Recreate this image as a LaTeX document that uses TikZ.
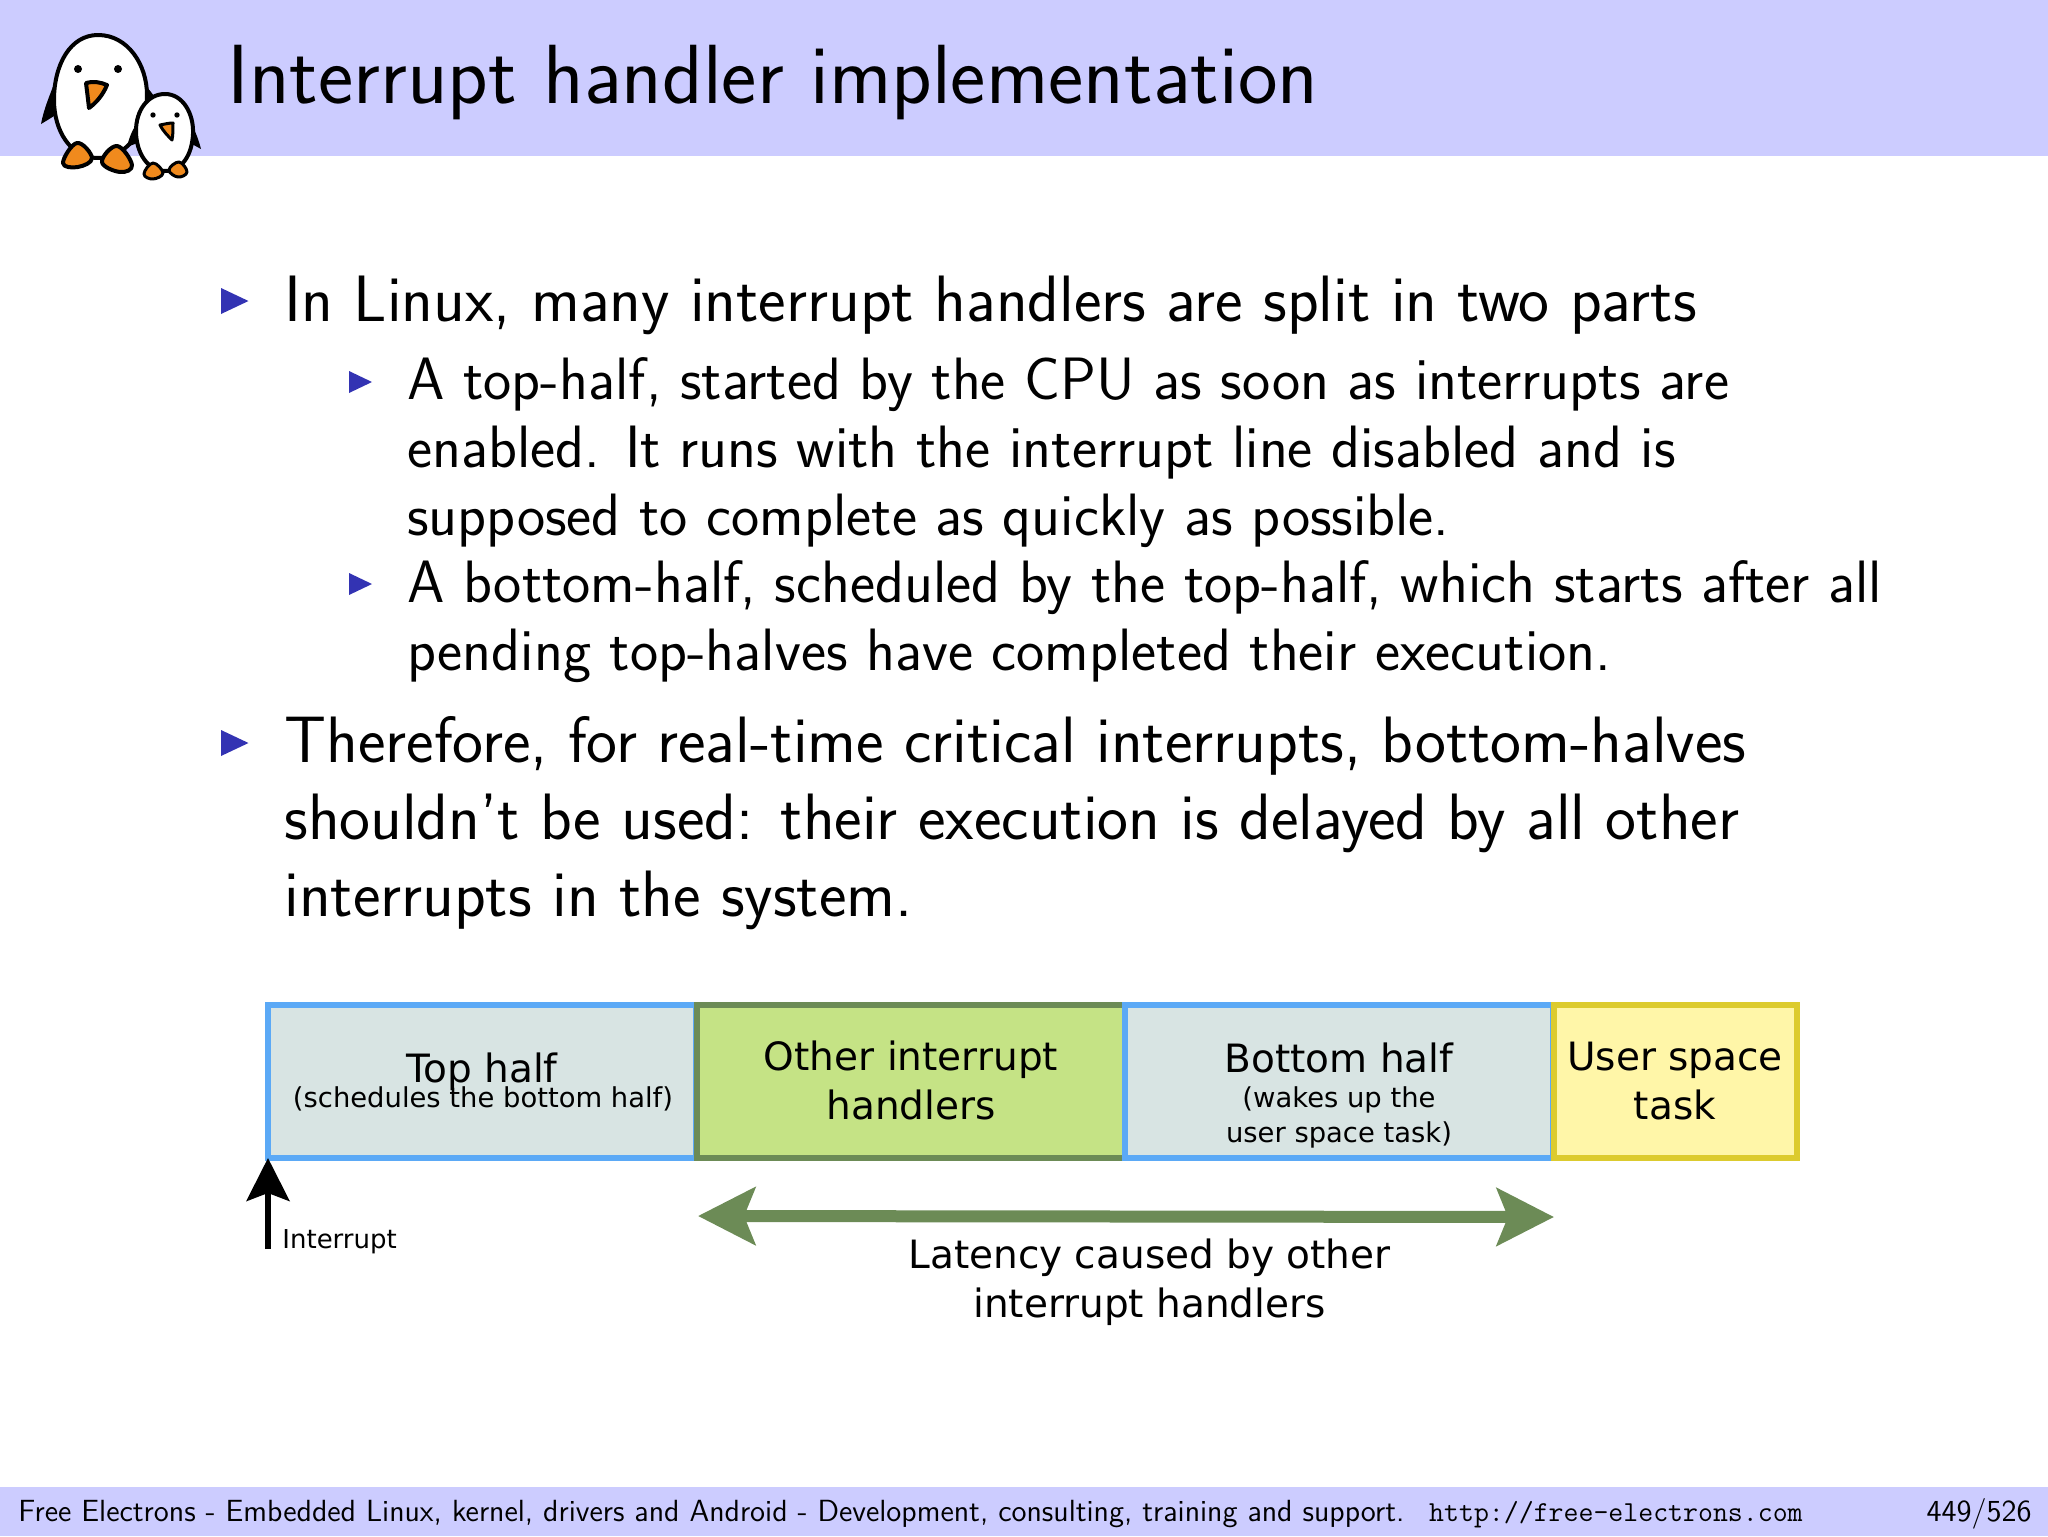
\documentclass[tikz,border=0pt]{standalone}
\usepackage{fontspec}
\newfontfamily\dejavu{DejaVu Sans}
\usetikzlibrary{arrows.meta}

\definecolor{bandblue}{HTML}{CCCCFF}
\definecolor{bulletblue}{HTML}{3333B3}
\definecolor{halfedge}{HTML}{5BA9F6}
\definecolor{halffill}{HTML}{D8E4E3}
\definecolor{otheredge}{HTML}{6C8B56}
\definecolor{otherfill}{HTML}{C5E385}
\definecolor{useredge}{HTML}{DCCB2E}
\definecolor{userfill}{HTML}{FFF6A8}
\definecolor{beakorange}{HTML}{F08A1D}

\begin{document}
\begin{tikzpicture}[
    x=0.5pt, y=-0.5pt,
    font=\sffamily,
    titletext/.style={anchor=base west, inner sep=0pt, font=\sffamily\fontsize{42}{46}\selectfont},
    leveltext/.style={anchor=base west, inner sep=0pt, align=left, font=\sffamily\fontsize{32.8}{38.3}\selectfont},
    subtext/.style={anchor=base west, inner sep=0pt, align=left, font=\sffamily\fontsize{29.9}{34}\selectfont},
    foottext/.style={anchor=base west, inner sep=0pt, font=\sffamily\fontsize{15.3}{17}\selectfont},
    slot/.style={draw, line width=3pt, outer sep=0pt, inner sep=0pt, anchor=north west, minimum height=76.5pt},
    halfslot/.style={slot, draw=halfedge, fill=halffill, minimum width=214pt},
    otherslot/.style={slot, draw=otheredge, fill=otherfill, minimum width=214pt},
    userslot/.style={slot, draw=useredge, fill=userfill, minimum width=121.5pt},
    bigtext/.style={anchor=base, inner sep=0pt, font=\dejavu\fontsize{19.5}{22}\selectfont},
    smalltext/.style={anchor=base, inner sep=0pt, font=\dejavu\fontsize{13.7}{17}\selectfont},
    penguinline/.style={draw=black, line width=2pt, line join=round},
    irqarrow/.style={-{Stealth[length=21.5pt, width=21.5pt, inset=4pt]}, line width=2.8pt, black},
    latarrow/.style={{Stealth[length=28.5pt, width=28.5pt, inset=5.5pt]}-{Stealth[length=28.5pt, width=28.5pt, inset=5.5pt]}, line width=6pt, otheredge}
]
\useasboundingbox (0,0) rectangle (2048,1536);

% Bands
\fill[bandblue] (0,0) rectangle (2048,156);
\fill[bandblue] (0,1487) rectangle (2048,1536);

%%%%%%%%%%%%%%%%%%%%%
% Penguins
%%%%%%%%%%%%%%%%%%%%%
\fill[black] (57,76) .. controls (50,95) and (44,108) .. (41,124) .. controls (48,120) and (54,116) .. (60,112) -- cycle;
\fill[black] (144,84) .. controls (148,88) and (151,92) .. (154,96) -- (142,112) -- cycle;
\draw[penguinline, fill=white] (98,35) .. controls (128,35) and (147,65) .. (147,95)
    .. controls (147,125) and (130,158) .. (98,158)
    .. controls (70,158) and (54,130) .. (54,100)
    .. controls (54,65) and (70,35) .. (98,35);
\fill (78,69) circle (4);
\fill (118,69) circle (4);
\draw[penguinline, fill=beakorange] (86,83) .. controls (93,81) and (100,82) .. (107,85) .. controls (103,95) and (96,103) .. (89,108) .. controls (88,99) and (87,91) .. (86,83) -- cycle;
\draw[penguinline, fill=beakorange] plot[smooth cycle, tension=0.7] coordinates {(77,143) (92,158) (78,167) (63,163)};
\draw[penguinline, fill=beakorange] plot[smooth cycle, tension=0.7] coordinates {(117,146) (132,165) (120,172) (102,162)};

\fill[black] (138,122) .. controls (132,130) and (129,138) .. (127,147) -- (140,142) -- cycle;
\fill[black] (192,125) .. controls (196,133) and (199,141) .. (201,149) -- (190,143) -- cycle;
\draw[penguinline, fill=white] (165,94) .. controls (183,94) and (194,114) .. (193,134)
    .. controls (192,155) and (182,171) .. (165,171)
    .. controls (148,171) and (136,153) .. (136,131)
    .. controls (136,110) and (148,94) .. (165,94);
\fill (153,115) circle (2.7);
\fill (177,115) circle (2.7);
\draw[penguinline, line width=1.5pt, fill=beakorange] (160,125) .. controls (165,124) and (169,123) .. (173,123) .. controls (173,130) and (173,135) .. (172,140) .. controls (168,136) and (163,131) .. (160,125) -- cycle;
\draw[penguinline, line width=1.5pt, fill=beakorange] plot[smooth cycle, tension=0.7] coordinates {(153,163) (163,173) (153,179) (144,174)};
\draw[penguinline, line width=1.5pt, fill=beakorange] plot[smooth cycle, tension=0.7] coordinates {(179,162) (187,172) (178,177) (169,170)};

%%%%%%%%%%%%%%%%%%%%%
% Slide text
%%%%%%%%%%%%%%%%%%%%%
\node[titletext] (title) at (227,103.5) {Interrupt handler implementation};

\foreach \bx/\by in {235/301, 235/743}
    \fill[bulletblue] (\bx-14,\by-13) -- (\bx+13.5,\by) -- (\bx-14,\by+13) -- cycle;
\foreach \bx/\by in {361/382, 361/584}
    \fill[bulletblue] (\bx-12,\by-11) -- (\bx+11,\by) -- (\bx-12,\by+11) -- cycle;

\node[leveltext] (splitline) at (284,321) {In Linux, many interrupt handlers are split in two parts};
\node[subtext] (tophalfline) at (407,535) {A top-half, started by the CPU as soon as interrupts are\\
    enabled. It runs with the interrupt line disabled and is\\
    supposed to complete as quickly as possible.};
\node[subtext] (bottomhalfline) at (407,670) {A bottom-half, scheduled by the top-half, which starts after all\\
    pending top-halves have completed their execution.};
\node[leveltext] (thereforeline) at (284,916) {Therefore, for real-time critical interrupts, bottom-halves\\
    shouldn't be used: their execution is delayed by all other\\
    interrupts in the system.};

%%%%%%%%%%%%%%%%%%%%%
% Timeline bar
%%%%%%%%%%%%%%%%%%%%%
\node[halfslot] (topslot) at (268,1005) {};
\node[otherslot] (otherslot) at (697,1005) {};
\node[halfslot] (bottomslot) at (1125,1005) {};
\node[userslot] (userslot) at (1554,1005) {};

\node[bigtext] (tophalf) at (482,1082) {Top half};
\node[smalltext] (topnote) at (483,1107) {(schedules the bottom half)};
\node[bigtext] (othera) at (911,1070) {Other interrupt};
\node[bigtext] (otherb) at (911,1119) {handlers};
\node[bigtext] (bothalf) at (1339,1072) {Bottom half};
\node[smalltext] (botnotea) at (1339,1107) {(wakes up the};
\node[smalltext] (botnoteb) at (1339,1142) {user space task)};
\node[bigtext] (usera) at (1675,1070) {User space};
\node[bigtext] (userb) at (1675,1119) {task};

% Arrows
\coordinate (irqfoot) at (268,1249);
\coordinate (irqtip) at (268,1158);
\coordinate (latleft) at (698,1216);
\coordinate (latright) at (1554,1217);
\draw[irqarrow] (irqfoot) -- (irqtip);
\draw[latarrow] (latleft) -- (latright);

\node[smalltext, anchor=base west, font=\dejavu\fontsize{13}{16}\selectfont] (irqlabel) at (282,1248) {Interrupt};
\node[bigtext] (lata) at (1149.5,1268) {Latency caused by other};
\node[bigtext] (latb) at (1149.5,1317) {interrupt handlers};

% Footer
\node[foottext] (footline) at (18,1521) {Free Electrons - Embedded Linux, kernel, drivers and Android - Development, consulting, training and support.};
\node[foottext, anchor=base east, font=\ttfamily\fontsize{14.5}{16}\selectfont] (footurl) at (1803,1521) {http://free-electrons.com};
\node[foottext, anchor=base east] (footpage) at (2032,1521) {449/526};

\end{tikzpicture}
\end{document}
